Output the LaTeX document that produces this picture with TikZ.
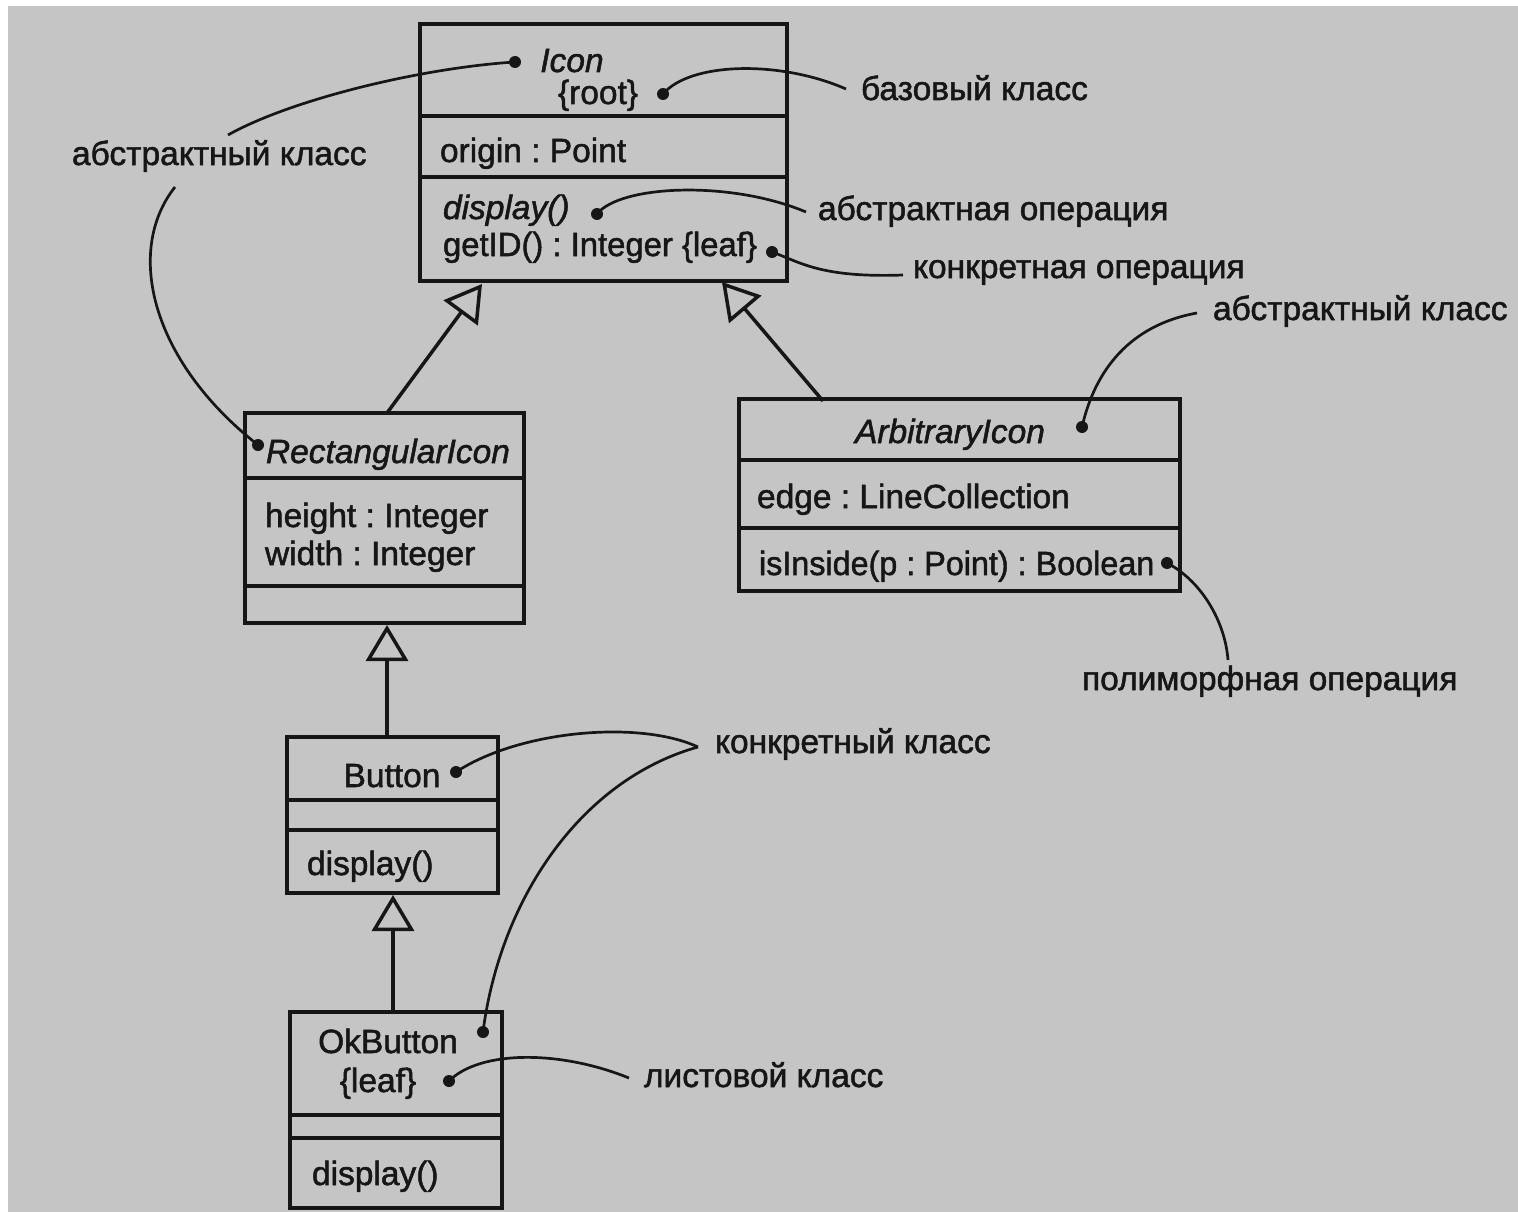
\documentclass[tikz,border=0pt]{standalone}
\usepackage{fontspec}
\setmainfont{Liberation Sans}[FakeBold=1.5]
\usetikzlibrary{arrows.meta}
\definecolor{paper}{RGB}{197,197,197}
\definecolor{ink}{RGB}{22,22,22}
\newcommand{\umlfont}{\fontsize{33.5}{40}\selectfont}
\frenchspacing
\begin{document}
\begin{tikzpicture}[x=1pt,y=-1pt,
  every node/.style={inner sep=0pt, outer sep=0pt, text=ink, font=\umlfont},
  classbox/.style={draw=ink, line width=3.5pt, anchor=north west, rectangle},
  sep/.style={draw=ink, line width=3.5pt},
  gen/.style={draw=ink, line width=3.5pt,
    -{Triangle[open, length=36pt, width=42pt, line width=3.5pt]}},
  note/.style={draw=ink, line width=2.7pt},
  dot/.style={circle, fill=ink, minimum size=12pt},
  txt/.style={anchor=base west},
  ctxt/.style={anchor=base},
  ital/.style={font=\umlfont\itshape},
  lbl/.style={anchor=base west},
]
% page
\fill[white] (0,0) rectangle (1518,1212);
\fill[paper] (8,6) rectangle (1518,1212);
\useasboundingbox (0,0) rectangle (1518,1212);

% ---------- class Icon ----------
\node[classbox, minimum width=367pt, minimum height=257pt] (icon) at (420,24) {};
\draw[sep] (icon.north west) ++(0,92) -- ++(367,0);
\draw[sep] (icon.north west) ++(0,153) -- ++(367,0);
\node[ctxt, ital] (iconName) at (572,72) {Icon};
\node[ctxt] (iconRoot) at (598,104) {\{root\}};
\node[txt] (iconAttr) at (440,162) {origin : Point};
\node[txt, ital] (iconOp1) at (443,219) {display()};
\node[txt] (iconOp2) at (443,256) {\scalebox{0.98}[1]{getID() : Integer \{leaf\}}};

% ---------- class RectangularIcon ----------
\node[classbox, minimum width=279pt, minimum height=210pt] (rect) at (245,413) {};
\draw[sep] (rect.north west) ++(0,65) -- ++(279,0);
\draw[sep] (rect.north west) ++(0,173) -- ++(279,0);
\node[txt, ital] (rectName) at (266,463) {RectangularIcon};
\node[txt] (rectA1) at (265,527) {height : Integer};
\node[txt] (rectA2) at (265,565) {width : Integer};

% ---------- class ArbitraryIcon ----------
\node[classbox, minimum width=441pt, minimum height=192pt] (arb) at (739,399) {};
\draw[sep] (arb.north west) ++(0,61) -- ++(441,0);
\draw[sep] (arb.north west) ++(0,129) -- ++(441,0);
\node[ctxt, ital] (arbName) at (950,443) {ArbitraryIcon};
\node[txt] (arbAttr) at (757,508) {edge : LineCollection};
\node[txt] (arbOp) at (759,575) {\scalebox{0.965}[1]{isInside(p : Point) : Boolean}};

% ---------- class Button ----------
\node[classbox, minimum width=211pt, minimum height=156pt] (btn) at (287,737) {};
\draw[sep] (btn.north west) ++(0,63) -- ++(211,0);
\draw[sep] (btn.north west) ++(0,93) -- ++(211,0);
\node[ctxt] (btnName) at (392,787) {Button};
\node[txt] (btnOp) at (307,875) {display()};

% ---------- class OkButton ----------
\node[classbox, minimum width=212pt, minimum height=196pt] (ok) at (290,1012) {};
\draw[sep] (ok.north west) ++(0,103) -- ++(212,0);
\draw[sep] (ok.north west) ++(0,126) -- ++(212,0);
\node[ctxt] (okName) at (388,1053) {OkButton};
\node[ctxt] (okLeaf) at (378,1092) {\{leaf\}};
\node[txt] (okOp) at (312,1185) {display()};

% ---------- generalizations ----------
\coordinate (rectTop) at (387,413);
\coordinate (iconFootL) at (482,284);
\coordinate (arbTop) at (823,401);
\coordinate (iconFootR) at (722,282);
\coordinate (btnTop) at (387,737);
\coordinate (rectFoot) at (387,625);
\coordinate (okTop) at (393,1012);
\coordinate (btnFoot) at (393,895);
\draw[gen] (rectTop) -- (iconFootL);
\draw[gen] (arbTop) -- (iconFootR);
\draw[gen] (btnTop) -- (rectFoot);
\draw[gen] (okTop) -- (btnFoot);

% ---------- notes ----------
\node[lbl] (lAbsL) at (72,165) {абстрактный класс};
\node[lbl] (lBase) at (861,100) {базовый класс};
\node[lbl] (lAbsOp) at (818,220) {абстрактная операция};
\node[lbl] (lConOp) at (913,278) {конкретная операция};
\node[lbl] (lAbsR) at (1213,320) {абстрактный класс};
\node[lbl] (lPoly) at (1082,690) {полиморфная операция};
\node[lbl] (lConc) at (715,753) {конкретный класс};
\node[lbl] (lLeaf) at (644,1087) {листовой класс};

% anchor dots
\node[dot] (dIcon) at (515,62) {};
\node[dot] (dRoot) at (663,94) {};
\node[dot] (dDisp) at (597,214) {};
\node[dot] (dLeafOp) at (772,252) {};
\node[dot] (dRect) at (258,445) {};
\node[dot] (dArb) at (1082,427) {};
\node[dot] (dBool) at (1167,563) {};
\node[dot] (dBtn) at (456,772) {};
\node[dot] (dOk) at (483,1032) {};
\node[dot] (dOkLeaf) at (449,1081) {};

% free ends next to the labels
\coordinate (eAbsTop) at (228,135);
\coordinate (eAbsBot) at (175,187);
\coordinate (eBase) at (846,89);
\coordinate (eAbsOp) at (806,212);
\coordinate (eConOp) at (903,275);
\coordinate (eAbsR) at (1197,313);
\coordinate (ePoly) at (1228,660);
\coordinate (eConc) at (698,747);
\coordinate (eLeaf) at (629,1078);

\draw[note] (dIcon.center) .. controls (420,68) and (290,100) .. (eAbsTop);
\draw[note] (eAbsBot) .. controls (125,250) and (150,360) .. (dRect.center);
\draw[note] (dRoot.center) .. controls (690,62) and (780,60) .. (eBase);
\draw[note] (dDisp.center) .. controls (620,185) and (730,180) .. (eAbsOp);
\draw[note] (dLeafOp.center) .. controls (800,262) and (820,278) .. (eConOp);
\draw[note] (dArb.center) .. controls (1095,370) and (1130,325) .. (eAbsR);
\draw[note] (dBool.center) .. controls (1200,580) and (1225,620) .. (ePoly);
\draw[note] (dBtn.center) .. controls (520,730) and (640,720) .. (eConc);
\draw[note] (dOk.center) .. controls (500,900) and (580,780) .. (eConc);
\draw[note] (dOkLeaf.center) .. controls (480,1050) and (560,1050) .. (eLeaf);
\end{tikzpicture}
\end{document}
